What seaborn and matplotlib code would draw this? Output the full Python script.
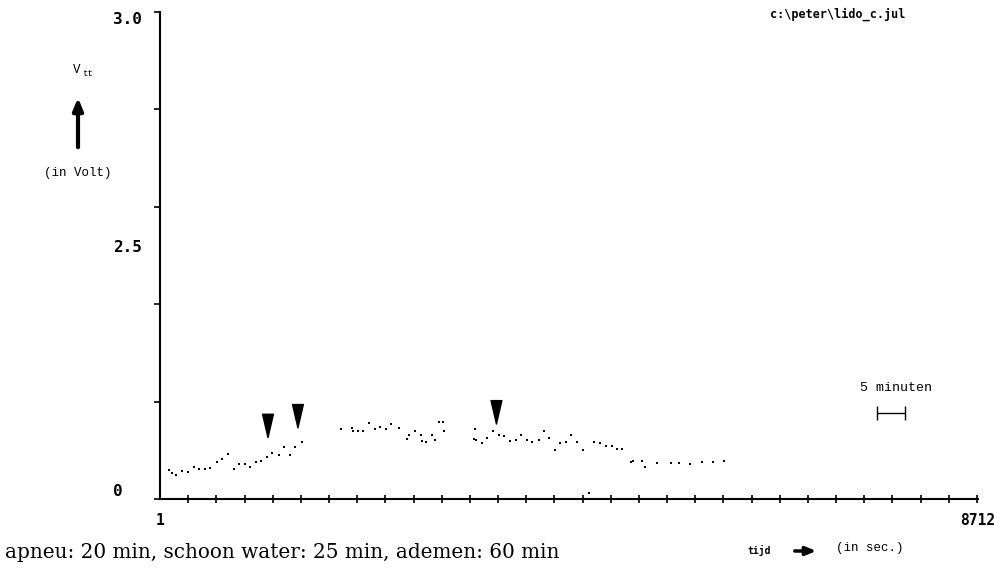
import matplotlib
matplotlib.use("Agg")
import matplotlib.pyplot as plt
import seaborn as sns
import pandas as pd

# measured points: time (s) and voltage (V)
t_sec = [100, 125, 167, 237, 295, 365, 415, 476, 532, 604, 663, 727, 788, 844, 902,
         962, 1022, 1076, 1143, 1196, 1264, 1324, 1384, 1441, 1509,
         1924, 2041, 2059, 2112, 2165, 2223, 2293, 2346, 2410, 2463, 2542, 2628, 2656,
         2716, 2777, 2791, 2830, 2897, 2932, 2975, 3018, 3028,
         3341, 3355, 3366, 3427, 3483, 3550, 3608, 3667, 3725, 3792, 3848, 3912, 3966,
         4034, 4087, 4140, 4207, 4260, 4324, 4378, 4445, 4502, 4569,
         4626, 4686, 4747, 4811, 4867, 4921, 5013, 5035, 5134, 5166, 5297, 5443, 5525,
         5645, 5770, 5890, 6007]
v_volt = [0.30, 0.27, 0.25, 0.29, 0.28, 0.33, 0.31, 0.31, 0.32, 0.38, 0.41, 0.46, 0.31, 0.36, 0.36,
          0.33, 0.38, 0.39, 0.43, 0.47, 0.45, 0.53, 0.45, 0.53, 0.59,
          0.72, 0.73, 0.70, 0.70, 0.70, 0.78, 0.72, 0.74, 0.72, 0.77, 0.73, 0.62, 0.66,
          0.70, 0.66, 0.60, 0.59, 0.66, 0.61, 0.79, 0.79, 0.70,
          0.62, 0.72, 0.61, 0.58, 0.63, 0.70, 0.66, 0.65, 0.60, 0.61, 0.66, 0.61, 0.59,
          0.61, 0.70, 0.63, 0.50, 0.58, 0.59, 0.66, 0.59, 0.50, 0.06,
          0.59, 0.57, 0.54, 0.54, 0.51, 0.51, 0.38, 0.39, 0.39, 0.33, 0.37, 0.37, 0.37,
          0.36, 0.38, 0.38, 0.39]

# event markers (black wedges)
event_t = [1151, 1470, 3584]
event_v = [0.63, 0.73, 0.77]

x_end = 8712
tick_step = 300
y_ticks = [0, 2.5, 5.0]
y_labels = ["0", "2.5", "3.0"]

df = pd.DataFrame({"t": t_sec, "v": v_volt})

sns.set_theme(style="white")
plt.rcParams["font.family"] = ["DejaVu Sans"]
plt.rcParams["text.color"] = "black"
plt.rcParams["xtick.color"] = "black"
plt.rcParams["ytick.color"] = "black"

W, H = 995, 572
fig = plt.figure(figsize=(W / 100, H / 100), dpi=100)
ax = fig.add_axes([160 / W, 73 / H, 818 / W, 487 / H])

sns.scatterplot(data=df, x="t", y="v", marker="s", s=4, color="black",
                linewidth=0, ax=ax, legend=False)

for t, v in zip(event_t, event_v):
    ax.annotate("", xy=(t, v), xytext=(t, v + 0.24),
                arrowprops=dict(arrowstyle="wedge,tail_width=0.65,shrink_factor=0.5",
                                color="black", shrinkA=0, shrinkB=0))

# 5 minute scale bar
ax.errorbar([7786], [0.88], xerr=[tick_step / 2], capsize=5, color="black",
            lw=1, capthick=1)

ax.set_xlim(1, x_end)
ax.set_ylim(0, 5)
sns.despine(ax=ax)
for s in ["left", "bottom"]:
    ax.spines[s].set_color("black")
    ax.spines[s].set_linewidth(1.5)

ax.set_xticks([1, x_end])
ax.set_xticklabels(["1", str(x_end)], fontfamily="DejaVu Sans Mono",
                   fontweight="bold", fontsize=10.5, color="black")
ax.set_xticks(list(range(1 + tick_step, x_end, tick_step)), minor=True)
ax.tick_params(axis="x", which="major", length=0, pad=10)
ax.tick_params(axis="x", which="minor", direction="inout", length=6, width=1.2,
               color="black", bottom=True)

ax.set_yticks(range(0, 6), minor=True)
ax.set_yticks([])
ax.tick_params(axis="y", which="minor", direction="out", length=4, width=1.2,
               color="black", left=True)
ytr = ax.get_yaxis_transform()
for yv, lab in zip(y_ticks, y_labels):
    va = "top" if yv == 5.0 else "bottom"
    ax.text(-0.057, yv, lab, transform=ytr, ha="left", va=va, color="black",
            fontfamily="DejaVu Sans Mono", fontweight="bold", fontsize=11.5)

ax.set_xlabel("")
ax.set_ylabel("")


def fx(x):
    return x / W


def fy(y):
    return 1 - y / H


fig.text(fx(770), fy(14), "c:\\peter\\lido_c.jul", fontfamily="DejaVu Sans Mono",
         fontweight="bold", fontsize=8.5, va="center", ha="left")
fig.text(fx(73), fy(70), "V", fontfamily="Liberation Mono", fontsize=9, va="center")
fig.text(fx(82), fy(74), "tt", fontfamily="Liberation Mono", fontsize=6.5, va="center")
fig.text(fx(78), fy(173), "(in Volt)", fontfamily="Liberation Mono", fontsize=9,
         va="center", ha="center")
ax.annotate("", xy=(78, H - 95), xytext=(78, H - 150), xycoords="figure pixels",
            textcoords="figure pixels",
            arrowprops=dict(arrowstyle="-|>,head_width=0.25,head_length=0.6",
                            lw=3, color="black", mutation_scale=12))

fig.text(fx(896), fy(388), "5 minuten", fontfamily="Liberation Mono", fontsize=9.5,
         va="center", ha="center")

fig.text(fx(748), fy(550), "tijd", fontfamily="DejaVu Sans Mono", fontweight="bold",
         fontsize=7, va="center", ha="left")
ax.annotate("", xy=(819, H - 551), xytext=(792, H - 551), xycoords="figure pixels",
            textcoords="figure pixels",
            arrowprops=dict(arrowstyle="-|>,head_width=0.25,head_length=0.6",
                            lw=2.5, color="black", mutation_scale=10))
fig.text(fx(870), fy(548), "(in sec.)", fontfamily="Liberation Mono", fontsize=9,
         va="center", ha="center")

fig.text(fx(5), fy(553), "apneu: 20 min, schoon water: 25 min, ademen: 60 min",
         fontfamily="DejaVu Serif", fontsize=14.4, va="center", ha="left")

fig.savefig("out.png", dpi=100, facecolor="white")
